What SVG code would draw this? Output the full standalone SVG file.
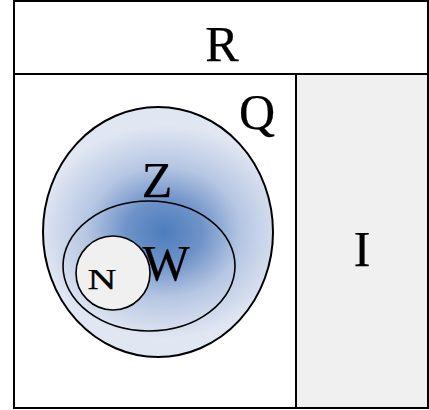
<svg xmlns="http://www.w3.org/2000/svg" width="429" height="410" viewBox="0 0 429 410">
<style>
.t{font-family:"Liberation Serif","Times New Roman",serif;fill:#000;text-anchor:middle;stroke:#000;stroke-width:0.25}
.ln{stroke:#000;stroke-width:2;fill:none}
</style>
<defs>
<radialGradient id="g" gradientUnits="userSpaceOnUse" cx="164" cy="232" r="125" gradientTransform="translate(164 232) scale(1 0.85) translate(-164 -232)">
<stop offset="0" stop-color="#4d7dbd"/>
<stop offset="0.3" stop-color="#6e92c8"/>
<stop offset="0.62" stop-color="#b6c6e3"/>
<stop offset="1" stop-color="#e0e6f2"/>
</radialGradient>
</defs>
<rect x="14" y="1" width="414" height="407" fill="#fff"/>
<rect x="296" y="74" width="132" height="334" fill="#f0f0f0"/>
<g id="frame">
<rect class="ln" x="14" y="1" width="414" height="407"/>
<line class="ln" x1="14" y1="74" x2="428" y2="74"/>
<line class="ln" x1="296" y1="74" x2="296" y2="408"/>
</g>
<g id="R"><text class="t" x="222" y="61" font-size="50">R</text></g>
<g id="I"><text class="t" x="362" y="266" font-size="50">I</text></g>
<g id="Q">
<ellipse cx="158" cy="232" rx="115" ry="125" fill="url(#g)" stroke="#000" stroke-width="2"/>
<text class="t" x="257" y="129" font-size="50">Q</text>
</g>
<g id="Z"><text class="t" x="157" y="197" font-size="50">Z</text></g>
<g id="W">
<ellipse cx="149" cy="266" rx="86" ry="65" fill="none" stroke="#000" stroke-width="1.6"/>
<text class="t" x="166" y="280" font-size="50">W</text>
</g>
<g id="N">
<circle cx="113" cy="273" r="37" fill="#f0f0f0" stroke="#000" stroke-width="1.6"/>
<text class="t" x="102" y="289" font-size="29" textLength="29" lengthAdjust="spacingAndGlyphs" stroke-width="0.9">N</text>
</g>
</svg>
